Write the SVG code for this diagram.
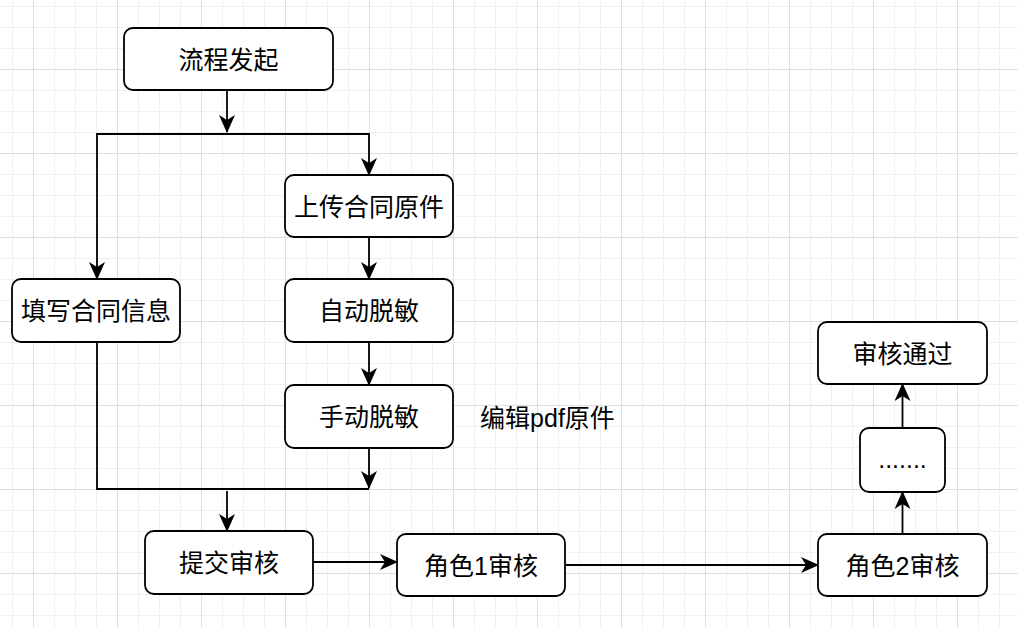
<svg xmlns="http://www.w3.org/2000/svg" width="1018" height="628" viewBox="0 0 1018 628">
  <style>
    .node rect { fill: #ffffff; stroke: #000000; stroke-width: 1.8; }
    .node text, .label { font-family: "Liberation Sans", "Noto Sans CJK SC", sans-serif; font-size: 25px; fill: #000000; text-anchor: middle; }
    .edges path { fill: none; stroke: #000000; stroke-width: 1.8; }
    .arrow path { marker-end: url(#arrow); }
  </style>
  <defs>
    <pattern id="grid" x="33" y="69" width="84" height="84" patternUnits="userSpaceOnUse">
      <path d="M21.5,0 V84 M42.5,0 V84 M63.5,0 V84 M0,21.5 H84 M0,42.5 H84 M0,63.5 H84" stroke="#f0f0f0" stroke-width="1" fill="none"/>
      <path d="M0.5,0 V84 M0,0.5 H84" stroke="#dedede" stroke-width="1" fill="none"/>
    </pattern>
    <marker id="arrow" viewBox="0 0 18 16" refX="17" refY="8" markerWidth="18" markerHeight="16" markerUnits="userSpaceOnUse" orient="auto">
      <path d="M0,0 L18,8 L0,16 L5,8 Z" fill="#000000" stroke="none"/>
    </marker>
  </defs>
  <rect width="1018" height="628" fill="#ffffff"/>
  <rect width="1018" height="628" fill="url(#grid)"/>

  <g id="connectors" class="edges">
    <g class="arrow">
      <path d="M227,90 V132"/>
      <path d="M227,134 H97 V279"/>
      <path d="M227,134 H369 V175"/>
      <path d="M369,237 V279"/>
      <path d="M369,342 V385"/>
      <path d="M369,448 V488"/>
      <path d="M227,491 V531"/>
      <path d="M313,562 H397"/>
      <path d="M565,565 H818"/>
      <path d="M902.5,534 V492"/>
      <path d="M902.5,428 V384"/>
    </g>
    <path d="M97,342 V489 H369"/>
  </g>

  <g id="node-start" class="node">
    <rect x="124" y="28" width="209" height="62" rx="9"/>
    <text x="228.5" y="68.5">流程发起</text>
  </g>
  <g id="node-upload" class="node">
    <rect x="285" y="175" width="168" height="62" rx="9"/>
    <text x="369" y="215.5">上传合同原件</text>
  </g>
  <g id="node-fill" class="node">
    <rect x="12" y="279" width="168" height="63" rx="9"/>
    <text x="96" y="320">填写合同信息</text>
  </g>
  <g id="node-auto" class="node">
    <rect x="285" y="279" width="168" height="63" rx="9"/>
    <text x="369" y="320">自动脱敏</text>
  </g>
  <g id="node-manual" class="node">
    <rect x="285" y="385" width="168" height="63" rx="9"/>
    <text x="369" y="426">手动脱敏</text>
  </g>
  <text id="label-edit" class="label" x="547.5" y="427">编辑pdf原件</text>
  <g id="node-submit" class="node">
    <rect x="145" y="531" width="168" height="63" rx="9"/>
    <text x="229" y="572">提交审核</text>
  </g>
  <g id="node-role1" class="node">
    <rect x="397" y="534" width="168" height="62" rx="9"/>
    <text x="481" y="574.5">角色1审核</text>
  </g>
  <g id="node-role2" class="node">
    <rect x="818" y="534" width="169" height="62" rx="9"/>
    <text x="902.5" y="574.5">角色2审核</text>
  </g>
  <g id="node-more" class="node">
    <rect x="860" y="428" width="85" height="64" rx="9"/>
    <text x="902.5" y="468">.......</text>
  </g>
  <g id="node-pass" class="node">
    <rect x="818" y="322" width="169" height="62" rx="9"/>
    <text x="902.5" y="362.5">审核通过</text>
  </g>
</svg>
